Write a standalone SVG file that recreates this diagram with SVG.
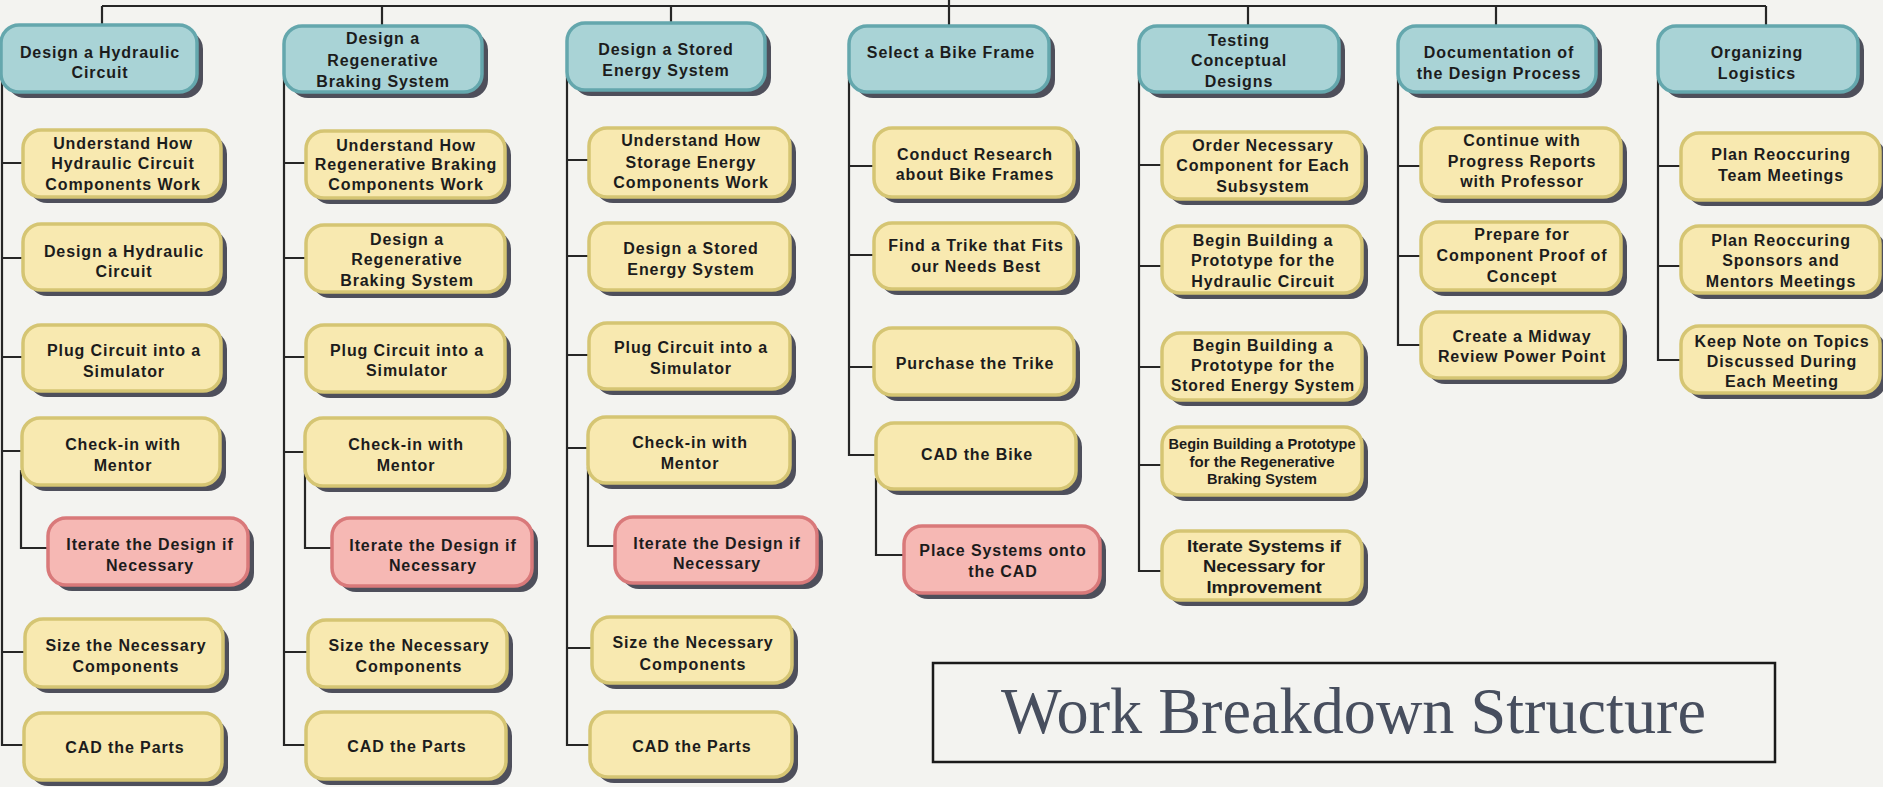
<svg xmlns="http://www.w3.org/2000/svg" width="1883" height="787" viewBox="0 0 1883 787">
  <style>
    .bg { fill: #f3f3f0; }
    .sh { fill: #4e4f5b; }
    .hd { fill: #a9d3d6; stroke: #64a7ad; stroke-width: 3.5; }
    .tk { fill: #f8e9b0; stroke: #d5c573; stroke-width: 3.5; }
    .it { fill: #f6b8b4; stroke: #d9797a; stroke-width: 3.5; }
    .t { font-family: "Liberation Sans", Arial, sans-serif; font-weight: bold; font-size: 16px; letter-spacing: 0.9px; fill: #1c1c1c; text-anchor: middle; }
    .tn { font-family: "Liberation Sans", Arial, sans-serif; font-weight: bold; fill: #1c1c1c; text-anchor: middle; }
    .wire { fill: none; stroke: #262626; stroke-width: 2.2; }
    .title { font-family: "Liberation Serif", "Times New Roman", serif; font-size: 65px; fill: #474e5e; }
  </style>

  <rect class="bg" x="0" y="0" width="1883" height="787"/>

  <!-- tree wiring -->
  <g id="connectors" class="wire">
    <path d="M102,6 H1766 M949,0 V6"/>
    <path d="M102,6 V25 M382,6 V26 M671,6 V23 M949,6 V26 M1248,6 V26 M1496,6 V26 M1766,6 V26"/>
    <!-- hydraulic circuit -->
    <path d="M2,78 V745 H24 M2,163 H23 M2,258 H23 M2,357 H23 M2,451 H22 M2,652 H25"/>
    <path d="M21,470 V548 H48"/>
    <!-- regenerative braking -->
    <path d="M284,78 V745 H306 M284,163 H306 M284,258 H306 M284,357 H306 M284,452 H305 M284,652 H308"/>
    <path d="M305,470 V548 H332"/>
    <!-- stored energy -->
    <path d="M567,76 V745 H590 M567,160 H589 M567,256 H589 M567,355 H589 M567,448 H588 M567,648 H592"/>
    <path d="M588,467 V546 H615"/>
    <!-- bike frame -->
    <path d="M849,78 V455 H876 M849,166 H874 M849,255 H874 M849,367 H874"/>
    <path d="M876,478 V555 H904"/>
    <!-- testing -->
    <path d="M1139,78 V571 H1162 M1139,165 H1162 M1139,266 H1162 M1139,367 H1162 M1139,465 H1162"/>
    <!-- documentation -->
    <path d="M1398,78 V345 H1421 M1398,166 H1421 M1398,256 H1421"/>
    <!-- logistics -->
    <path d="M1658,78 V360 H1681 M1658,166 H1681 M1658,266 H1681"/>
  </g>

  <!-- column 1 -->
  <g id="h1"><rect class="sh" x="7" y="31" width="196" height="67" rx="18"/><rect class="hd" x="1" y="25" width="196" height="67" rx="18"/>
    <text class="t"><tspan x="100" y="58">Design a Hydraulic</tspan><tspan x="100" y="78">Circuit</tspan></text></g>
  <g id="c1-1"><rect class="sh" x="29" y="136" width="198" height="67" rx="18"/><rect class="tk" x="23" y="130" width="198" height="67" rx="18"/>
    <text class="t"><tspan x="123" y="149">Understand How</tspan><tspan x="123" y="169">Hydraulic Circuit</tspan><tspan x="123" y="190">Components Work</tspan></text></g>
  <g id="c1-2"><rect class="sh" x="29" y="230" width="198" height="66" rx="18"/><rect class="tk" x="23" y="224" width="198" height="66" rx="18"/>
    <text class="t"><tspan x="124" y="257">Design a Hydraulic</tspan><tspan x="124" y="277">Circuit</tspan></text></g>
  <g id="c1-3"><rect class="sh" x="29" y="331" width="198" height="66" rx="18"/><rect class="tk" x="23" y="325" width="198" height="66" rx="18"/>
    <text class="t"><tspan x="124" y="356">Plug Circuit into a</tspan><tspan x="124" y="377">Simulator</tspan></text></g>
  <g id="c1-4"><rect class="sh" x="28" y="424" width="198" height="67" rx="18"/><rect class="tk" x="22" y="418" width="198" height="67" rx="18"/>
    <text class="t"><tspan x="123" y="450">Check-in with</tspan><tspan x="123" y="471">Mentor</tspan></text></g>
  <g id="c1-5"><rect class="sh" x="54" y="524" width="200" height="67" rx="18"/><rect class="it" x="48" y="518" width="200" height="67" rx="18"/>
    <text class="t"><tspan x="150" y="550">Iterate the Design if</tspan><tspan x="150" y="571">Necessary</tspan></text></g>
  <g id="c1-6"><rect class="sh" x="31" y="625" width="198" height="68" rx="18"/><rect class="tk" x="25" y="619" width="198" height="68" rx="18"/>
    <text class="t"><tspan x="126" y="651">Size the Necessary</tspan><tspan x="126" y="672">Components</tspan></text></g>
  <g id="c1-7"><rect class="sh" x="30" y="719" width="198" height="67" rx="18"/><rect class="tk" x="24" y="713" width="198" height="67" rx="18"/>
    <text class="t"><tspan x="125" y="753">CAD the Parts</tspan></text></g>

  <!-- column 2 -->
  <g id="h2"><rect class="sh" x="290" y="32" width="198" height="66" rx="18"/><rect class="hd" x="284" y="26" width="198" height="66" rx="18"/>
    <text class="t"><tspan x="383" y="44">Design a</tspan><tspan x="383" y="66">Regenerative</tspan><tspan x="383" y="87">Braking System</tspan></text></g>
  <g id="c2-1"><rect class="sh" x="312" y="137" width="199" height="67" rx="18"/><rect class="tk" x="306" y="131" width="199" height="67" rx="18"/>
    <text class="t"><tspan x="406" y="151">Understand How</tspan><tspan x="406" y="170">Regenerative Braking</tspan><tspan x="406" y="190">Components Work</tspan></text></g>
  <g id="c2-2"><rect class="sh" x="312" y="231" width="199" height="67" rx="18"/><rect class="tk" x="306" y="225" width="199" height="67" rx="18"/>
    <text class="t"><tspan x="407" y="245">Design a</tspan><tspan x="407" y="265">Regenerative</tspan><tspan x="407" y="286">Braking System</tspan></text></g>
  <g id="c2-3"><rect class="sh" x="312" y="331" width="199" height="67" rx="18"/><rect class="tk" x="306" y="325" width="199" height="67" rx="18"/>
    <text class="t"><tspan x="407" y="356">Plug Circuit into a</tspan><tspan x="407" y="376">Simulator</tspan></text></g>
  <g id="c2-4"><rect class="sh" x="311" y="424" width="200" height="68" rx="18"/><rect class="tk" x="305" y="418" width="200" height="68" rx="18"/>
    <text class="t"><tspan x="406" y="450">Check-in with</tspan><tspan x="406" y="471">Mentor</tspan></text></g>
  <g id="c2-5"><rect class="sh" x="338" y="524" width="200" height="68" rx="18"/><rect class="it" x="332" y="518" width="200" height="68" rx="18"/>
    <text class="t"><tspan x="433" y="551">Iterate the Design if</tspan><tspan x="433" y="571">Necessary</tspan></text></g>
  <g id="c2-6"><rect class="sh" x="314" y="626" width="199" height="67" rx="18"/><rect class="tk" x="308" y="620" width="199" height="67" rx="18"/>
    <text class="t"><tspan x="409" y="651">Size the Necessary</tspan><tspan x="409" y="672">Components</tspan></text></g>
  <g id="c2-7"><rect class="sh" x="312" y="718" width="200" height="67" rx="18"/><rect class="tk" x="306" y="712" width="200" height="67" rx="18"/>
    <text class="t"><tspan x="407" y="752">CAD the Parts</tspan></text></g>

  <!-- column 3 -->
  <g id="h3"><rect class="sh" x="573" y="29" width="198" height="67" rx="18"/><rect class="hd" x="567" y="23" width="198" height="67" rx="18"/>
    <text class="t"><tspan x="666" y="55">Design a Stored</tspan><tspan x="666" y="76">Energy System</tspan></text></g>
  <g id="c3-1"><rect class="sh" x="595" y="134" width="201" height="69" rx="18"/><rect class="tk" x="589" y="128" width="201" height="69" rx="18"/>
    <text class="t"><tspan x="691" y="146">Understand How</tspan><tspan x="691" y="168">Storage Energy</tspan><tspan x="691" y="188">Components Work</tspan></text></g>
  <g id="c3-2"><rect class="sh" x="595" y="229" width="201" height="67" rx="18"/><rect class="tk" x="589" y="223" width="201" height="67" rx="18"/>
    <text class="t"><tspan x="691" y="254">Design a Stored</tspan><tspan x="691" y="275">Energy System</tspan></text></g>
  <g id="c3-3"><rect class="sh" x="595" y="329" width="201" height="66" rx="18"/><rect class="tk" x="589" y="323" width="201" height="66" rx="18"/>
    <text class="t"><tspan x="691" y="353">Plug Circuit into a</tspan><tspan x="691" y="374">Simulator</tspan></text></g>
  <g id="c3-4"><rect class="sh" x="594" y="423" width="202" height="66" rx="18"/><rect class="tk" x="588" y="417" width="202" height="66" rx="18"/>
    <text class="t"><tspan x="690" y="448">Check-in with</tspan><tspan x="690" y="469">Mentor</tspan></text></g>
  <g id="c3-5"><rect class="sh" x="621" y="523" width="202" height="66" rx="18"/><rect class="it" x="615" y="517" width="202" height="66" rx="18"/>
    <text class="t"><tspan x="717" y="549">Iterate the Design if</tspan><tspan x="717" y="569">Necessary</tspan></text></g>
  <g id="c3-6"><rect class="sh" x="598" y="623" width="200" height="66" rx="18"/><rect class="tk" x="592" y="617" width="200" height="66" rx="18"/>
    <text class="t"><tspan x="693" y="648">Size the Necessary</tspan><tspan x="693" y="670">Components</tspan></text></g>
  <g id="c3-7"><rect class="sh" x="596" y="718" width="202" height="65" rx="18"/><rect class="tk" x="590" y="712" width="202" height="65" rx="18"/>
    <text class="t"><tspan x="692" y="752">CAD the Parts</tspan></text></g>

  <!-- column 4 -->
  <g id="h4"><rect class="sh" x="855" y="32" width="200" height="66" rx="18"/><rect class="hd" x="849" y="26" width="200" height="66" rx="18"/>
    <text class="t"><tspan x="951" y="58">Select a Bike Frame</tspan></text></g>
  <g id="c4-1"><rect class="sh" x="880" y="134" width="200" height="69" rx="18"/><rect class="tk" x="874" y="128" width="200" height="69" rx="18"/>
    <text class="t"><tspan x="975" y="160">Conduct Research</tspan><tspan x="975" y="180">about Bike Frames</tspan></text></g>
  <g id="c4-2"><rect class="sh" x="880" y="229" width="200" height="66" rx="18"/><rect class="tk" x="874" y="223" width="200" height="66" rx="18"/>
    <text class="t"><tspan x="976" y="251">Find a Trike that Fits</tspan><tspan x="976" y="272">our Needs Best</tspan></text></g>
  <g id="c4-3"><rect class="sh" x="880" y="334" width="200" height="67" rx="18"/><rect class="tk" x="874" y="328" width="200" height="67" rx="18"/>
    <text class="t"><tspan x="975" y="369">Purchase the Trike</tspan></text></g>
  <g id="c4-4"><rect class="sh" x="882" y="429" width="200" height="66" rx="18"/><rect class="tk" x="876" y="423" width="200" height="66" rx="18"/>
    <text class="t"><tspan x="977" y="460">CAD the Bike</tspan></text></g>
  <g id="c4-5"><rect class="sh" x="910" y="532" width="196" height="67" rx="18"/><rect class="it" x="904" y="526" width="196" height="67" rx="18"/>
    <text class="t"><tspan x="1003" y="556">Place Systems onto</tspan><tspan x="1003" y="577">the CAD</tspan></text></g>

  <!-- column 5 -->
  <g id="h5"><rect class="sh" x="1145" y="32" width="200" height="66" rx="18"/><rect class="hd" x="1139" y="26" width="200" height="66" rx="18"/>
    <text class="t"><tspan x="1239" y="46">Testing</tspan><tspan x="1239" y="66">Conceptual</tspan><tspan x="1239" y="87">Designs</tspan></text></g>
  <g id="c5-1"><rect class="sh" x="1168" y="138" width="200" height="67" rx="18"/><rect class="tk" x="1162" y="132" width="200" height="67" rx="18"/>
    <text class="t"><tspan x="1263" y="151">Order Necessary</tspan><tspan x="1263" y="171">Component for Each</tspan><tspan x="1263" y="192">Subsystem</tspan></text></g>
  <g id="c5-2"><rect class="sh" x="1168" y="232" width="200" height="67" rx="18"/><rect class="tk" x="1162" y="226" width="200" height="67" rx="18"/>
    <text class="t"><tspan x="1263" y="246">Begin Building a</tspan><tspan x="1263" y="266">Prototype for the</tspan><tspan x="1263" y="287">Hydraulic Circuit</tspan></text></g>
  <g id="c5-3"><rect class="sh" x="1168" y="339" width="200" height="67" rx="18"/><rect class="tk" x="1162" y="333" width="200" height="67" rx="18"/>
    <text class="t"><tspan x="1263" y="351">Begin Building a</tspan><tspan x="1263" y="371">Prototype for the</tspan><tspan x="1263" y="391" textLength="184" lengthAdjust="spacingAndGlyphs">Stored Energy System</tspan></text></g>
  <g id="c5-4"><rect class="sh" x="1168" y="433" width="200" height="68" rx="18"/><rect class="tk" x="1162" y="427" width="200" height="68" rx="18"/>
    <text class="tn" font-size="14"><tspan x="1262" y="449" textLength="187" lengthAdjust="spacingAndGlyphs">Begin Building a Prototype</tspan><tspan x="1262" y="467" textLength="145" lengthAdjust="spacingAndGlyphs">for the Regenerative</tspan><tspan x="1262" y="484" textLength="110" lengthAdjust="spacingAndGlyphs">Braking System</tspan></text></g>
  <g id="c5-5"><rect class="sh" x="1168" y="537" width="200" height="69" rx="18"/><rect class="tk" x="1162" y="531" width="200" height="69" rx="18"/>
    <text class="tn" font-size="17"><tspan x="1264" y="552" textLength="154" lengthAdjust="spacingAndGlyphs">Iterate Systems if</tspan><tspan x="1264" y="572" textLength="122" lengthAdjust="spacingAndGlyphs">Necessary for</tspan><tspan x="1264" y="593" textLength="115" lengthAdjust="spacingAndGlyphs">Improvement</tspan></text></g>

  <!-- column 6 -->
  <g id="h6"><rect class="sh" x="1404" y="32" width="198" height="66" rx="18"/><rect class="hd" x="1398" y="26" width="198" height="66" rx="18"/>
    <text class="t"><tspan x="1499" y="58">Documentation of</tspan><tspan x="1499" y="79">the Design Process</tspan></text></g>
  <g id="c6-1"><rect class="sh" x="1427" y="134" width="200" height="69" rx="18"/><rect class="tk" x="1421" y="128" width="200" height="69" rx="18"/>
    <text class="t"><tspan x="1522" y="146">Continue with</tspan><tspan x="1522" y="167">Progress Reports</tspan><tspan x="1522" y="187">with Professor</tspan></text></g>
  <g id="c6-2"><rect class="sh" x="1427" y="228" width="200" height="68" rx="18"/><rect class="tk" x="1421" y="222" width="200" height="68" rx="18"/>
    <text class="t"><tspan x="1522" y="240">Prepare for</tspan><tspan x="1522" y="261">Component Proof of</tspan><tspan x="1522" y="282">Concept</tspan></text></g>
  <g id="c6-3"><rect class="sh" x="1427" y="318" width="200" height="66" rx="18"/><rect class="tk" x="1421" y="312" width="200" height="66" rx="18"/>
    <text class="t"><tspan x="1522" y="342">Create a Midway</tspan><tspan x="1522" y="362">Review Power Point</tspan></text></g>

  <!-- column 7 -->
  <g id="h7"><rect class="sh" x="1664" y="32" width="200" height="66" rx="18"/><rect class="hd" x="1658" y="26" width="200" height="66" rx="18"/>
    <text class="t"><tspan x="1757" y="58">Organizing</tspan><tspan x="1757" y="79">Logistics</tspan></text></g>
  <g id="c7-1"><rect class="sh" x="1687" y="139" width="199" height="67" rx="18"/><rect class="tk" x="1681" y="133" width="199" height="67" rx="18"/>
    <text class="t"><tspan x="1781" y="160">Plan Reoccuring</tspan><tspan x="1781" y="181">Team Meetings</tspan></text></g>
  <g id="c7-2"><rect class="sh" x="1687" y="232" width="199" height="67" rx="18"/><rect class="tk" x="1681" y="226" width="199" height="67" rx="18"/>
    <text class="t"><tspan x="1781" y="246">Plan Reoccuring</tspan><tspan x="1781" y="266">Sponsors and</tspan><tspan x="1781" y="287">Mentors Meetings</tspan></text></g>
  <g id="c7-3"><rect class="sh" x="1687" y="332" width="199" height="67" rx="18"/><rect class="tk" x="1681" y="326" width="199" height="67" rx="18"/>
    <text class="t"><tspan x="1782" y="347">Keep Note on Topics</tspan><tspan x="1782" y="367">Discussed During</tspan><tspan x="1782" y="387">Each Meeting</tspan></text></g>

  <!-- caption -->
  <g id="title">
    <rect x="933" y="663" width="842" height="99" fill="none" stroke="#1a1a1a" stroke-width="2.5"/>
    <text class="title" x="1001" y="733" textLength="705" lengthAdjust="spacingAndGlyphs">Work Breakdown Structure</text>
  </g>
</svg>
